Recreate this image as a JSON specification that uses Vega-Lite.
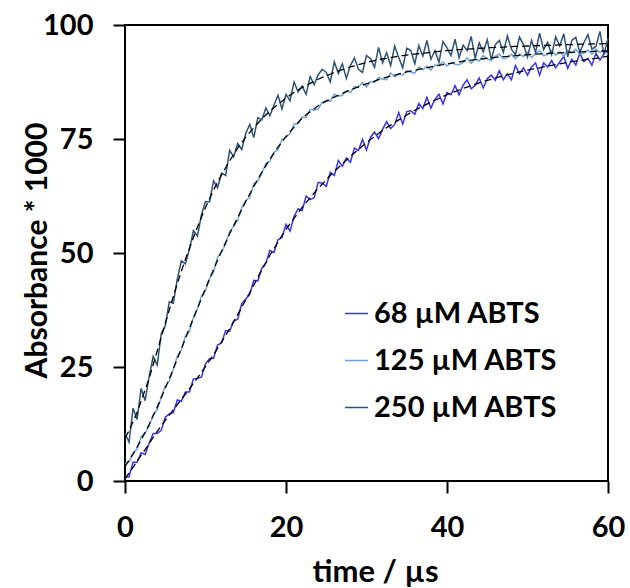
{
"$schema":"https://vega.github.io/schema/vega-lite/v6.json",
"width":483,"height":456,
"autosize":{"type":"none"},
"padding":{"left":125,"top":25,"right":22,"bottom":107},
"background":"white",
"config":{"view":{"stroke":"black","strokeWidth":2},"font":"Lato"},
"data":{"values":[
{"t":0,"a":0.9,"b":3.8,"c":10.5,"fa":0.5,"fb":3.2,"fc":9.5},
{"t":0.5,"a":0.9,"b":4.2,"c":8.5,"fa":1.75,"fb":4.55,"fc":11},
{"t":1,"a":4.1,"b":6.1,"c":16,"fa":3,"fb":5.9,"fc":13},
{"t":1.5,"a":4.1,"b":7.0,"c":13.5,"fa":4.3,"fb":7.45,"fc":15},
{"t":2,"a":6.2,"b":9.7,"c":20.3,"fa":5.6,"fb":9,"fc":17.5},
{"t":2.5,"a":5.8,"b":10.5,"c":17.6,"fa":6.9,"fb":10.7,"fc":20},
{"t":3,"a":8.3,"b":12.0,"c":22.9,"fa":8.2,"fb":12.4,"fc":22.5},
{"t":3.5,"a":10.4,"b":14.6,"c":27.3,"fa":9.55,"fb":14.3,"fc":25.5},
{"t":4,"a":10.4,"b":15.6,"c":25.4,"fa":10.9,"fb":16.2,"fc":28.5},
{"t":4.5,"a":11.1,"b":18.4,"c":32.3,"fa":12.1,"fb":18.25,"fc":31.5},
{"t":5,"a":14.0,"b":20.8,"c":34.0,"fa":13.3,"fb":20.3,"fc":34.5},
{"t":5.5,"a":14.7,"b":21.9,"c":39.3,"fa":14.45,"fb":22.45,"fc":37.5},
{"t":6,"a":15.0,"b":24.5,"c":39.0,"fa":15.6,"fb":24.6,"fc":40.5},
{"t":6.5,"a":17.8,"b":27.4,"c":44.3,"fa":16.75,"fb":26.8,"fc":43.3},
{"t":7,"a":17.5,"b":28.7,"c":48.3,"fa":17.9,"fb":29,"fc":46},
{"t":7.5,"a":19.5,"b":31.7,"c":47.6,"fa":19.05,"fb":31.25,"fc":48.6},
{"t":8,"a":19.5,"b":32.8,"c":50.8,"fa":20.2,"fb":33.5,"fc":51},
{"t":8.5,"a":22.4,"b":35.9,"c":54.9,"fa":21.4,"fb":35.7,"fc":53.4},
{"t":9,"a":22.5,"b":37.7,"c":53.7,"fa":22.6,"fb":37.9,"fc":55.7},
{"t":9.5,"a":22.8,"b":40.6,"c":58.4,"fa":23.85,"fb":40.05,"fc":57.9},
{"t":10,"a":25.7,"b":41.7,"c":61.3,"fa":25.1,"fb":42.2,"fc":60},
{"t":10.5,"a":26.8,"b":44.4,"c":61.2,"fa":26.4,"fb":44.3,"fc":61.9},
{"t":11,"a":26.9,"b":45.8,"c":65.8,"fa":27.7,"fb":46.4,"fc":63.8},
{"t":11.5,"a":29.8,"b":49.1,"c":64.3,"fa":29.1,"fb":48.4,"fc":65.5},
{"t":12,"a":30.3,"b":50.2,"c":67.5,"fa":30.5,"fb":50.4,"fc":67.2},
{"t":12.5,"a":33.0,"b":51.9,"c":67.0,"fa":31.95,"fb":52.3,"fc":68.7},
{"t":13,"a":32.8,"b":54.7,"c":72.5,"fa":33.4,"fb":54.2,"fc":70.2},
{"t":13.5,"a":35.1,"b":55.9,"c":71.1,"fa":34.95,"fb":56,"fc":71.6},
{"t":14,"a":35.5,"b":57.2,"c":74.0,"fa":36.5,"fb":57.8,"fc":73},
{"t":14.5,"a":38.9,"b":59.9,"c":72.7,"fa":38.1,"fb":59.55,"fc":74.2},
{"t":15,"a":39.9,"b":61.5,"c":76.2,"fa":39.7,"fb":61.3,"fc":75.4},
{"t":15.5,"a":40.9,"b":62.2,"c":78.2,"fa":41.35,"fb":62.95,"fc":76.45},
{"t":16,"a":44.0,"b":65.2,"c":75.3,"fa":43,"fb":64.6,"fc":77.5},
{"t":16.5,"a":43.9,"b":65.8,"c":79.7,"fa":44.65,"fb":66.15,"fc":78.45},
{"t":17,"a":46.7,"b":67.5,"c":79.2,"fa":46.3,"fb":67.7,"fc":79.4},
{"t":17.5,"a":47.8,"b":69.6,"c":81.8,"fa":47.9,"fb":69.15,"fc":80.25},
{"t":18,"a":50.6,"b":70.1,"c":80.1,"fa":49.5,"fb":70.6,"fc":81.1},
{"t":18.5,"a":50.1,"b":72.1,"c":82.4,"fa":50.95,"fb":71.9,"fc":81.85},
{"t":19,"a":52.9,"b":72.6,"c":84.6,"fa":52.4,"fb":73.2,"fc":82.6},
{"t":19.5,"a":53.4,"b":74.9,"c":81.6,"fa":53.8,"fb":74.35,"fc":83.3},
{"t":20,"a":56.3,"b":75.4,"c":84.8,"fa":55.2,"fb":75.5,"fc":84},
{"t":20.5,"a":54.8,"b":76.2,"c":83.4,"fa":56.4,"fb":76.55,"fc":84.6},
{"t":21,"a":58.0,"b":78.3,"c":87.5,"fa":57.6,"fb":77.6,"fc":85.2},
{"t":21.5,"a":59.7,"b":78.4,"c":85.3,"fa":58.8,"fb":78.6,"fc":85.75},
{"t":22,"a":59.3,"b":79.8,"c":86.6,"fa":60,"fb":79.6,"fc":86.3},
{"t":22.5,"a":62.5,"b":79.7,"c":84.8,"fa":61.05,"fb":80.3,"fc":86.75},
{"t":23,"a":61.7,"b":81.5,"c":88.7,"fa":62.1,"fb":81,"fc":87.2},
{"t":23.5,"a":62.1,"b":81.3,"c":86.9,"fa":63.15,"fb":81.65,"fc":87.65},
{"t":24,"a":65.5,"b":81.6,"c":89.1,"fa":64.2,"fb":82.3,"fc":88.1},
{"t":24.5,"a":65.3,"b":83.1,"c":90.3,"fa":65.1,"fb":82.8,"fc":88.5},
{"t":25,"a":64.6,"b":83.4,"c":89.6,"fa":66.05,"fb":83.3,"fc":88.85},
{"t":25.5,"a":67.7,"b":83.3,"c":87.5,"fa":67,"fb":83.75,"fc":89.2},
{"t":26,"a":67.0,"b":84.8,"c":91.9,"fa":67.9,"fb":84.2,"fc":89.6},
{"t":26.5,"a":70.3,"b":84.4,"c":89.4,"fa":68.7,"fb":84.6,"fc":89.9},
{"t":27,"a":69.0,"b":84.6,"c":91.5,"fa":69.55,"fb":85,"fc":90.2},
{"t":27.5,"a":70.8,"b":85.6,"c":88.3,"fa":70.4,"fb":85.4,"fc":90.5},
{"t":28,"a":69.9,"b":85.2,"c":91.1,"fa":71.2,"fb":85.8,"fc":90.8},
{"t":28.5,"a":73.0,"b":86.5,"c":92.8,"fa":71.95,"fb":86.1,"fc":91.05},
{"t":29,"a":72.5,"b":86.4,"c":90.3,"fa":72.7,"fb":86.45,"fc":91.3},
{"t":29.5,"a":74.9,"b":87.4,"c":89.6,"fa":73.45,"fb":86.8,"fc":91.55},
{"t":30,"a":72.6,"b":86.4,"c":93.3,"fa":74.2,"fb":87.1,"fc":91.8},
{"t":30.5,"a":75.4,"b":87.6,"c":92.6,"fa":74.9,"fb":87.4,"fc":92},
{"t":31,"a":76.5,"b":87.4,"c":90.7,"fa":75.55,"fb":87.7,"fc":92.2},
{"t":31.5,"a":75.1,"b":88.5,"c":95.1,"fa":76.2,"fb":88,"fc":92.4},
{"t":32,"a":77.1,"b":88.1,"c":91.7,"fa":76.9,"fb":88.3,"fc":92.6},
{"t":32.5,"a":78.8,"b":88.0,"c":93.9,"fa":77.5,"fb":88.55,"fc":92.7},
{"t":33,"a":77.3,"b":89.5,"c":91.1,"fa":78.05,"fb":88.8,"fc":92.85},
{"t":33.5,"a":78.2,"b":88.6,"c":95.4,"fa":78.6,"fb":89,"fc":93},
{"t":34,"a":80.8,"b":89.3,"c":92.9,"fa":79.2,"fb":89.25,"fc":93.15},
{"t":34.5,"a":78.3,"b":89.0,"c":90.6,"fa":79.7,"fb":89.5,"fc":93.3},
{"t":35,"a":81.0,"b":90.0,"c":94.9,"fa":80.25,"fb":89.7,"fc":93.4},
{"t":35.5,"a":81.2,"b":89.7,"c":94.4,"fa":80.8,"fb":89.9,"fc":93.5},
{"t":36,"a":80.4,"b":89.4,"c":91.5,"fa":81.3,"fb":90.05,"fc":93.6},
{"t":36.5,"a":82.8,"b":90.8,"c":95.5,"fa":81.75,"fb":90.25,"fc":93.7},
{"t":37,"a":81.7,"b":90.2,"c":93.2,"fa":82.2,"fb":90.45,"fc":93.8},
{"t":37.5,"a":84.1,"b":91.0,"c":96.6,"fa":82.65,"fb":90.6,"fc":93.9},
{"t":38,"a":81.8,"b":90.1,"c":92.5,"fa":83.1,"fb":90.8,"fc":94},
{"t":38.5,"a":83.7,"b":91.2,"c":94.4,"fa":83.5,"fb":91,"fc":94.1},
{"t":39,"a":84.8,"b":91.1,"c":91.8,"fa":83.9,"fb":91.15,"fc":94.2},
{"t":39.5,"a":82.7,"b":91.9,"c":96.4,"fa":84.3,"fb":91.3,"fc":94.3},
{"t":40,"a":85.2,"b":91.0,"c":95.0,"fa":84.7,"fb":91.5,"fc":94.4},
{"t":40.5,"a":84.7,"b":91.8,"c":93.3,"fa":85.05,"fb":91.6,"fc":94.45},
{"t":41,"a":86.7,"b":91.4,"c":96.9,"fa":85.4,"fb":91.75,"fc":94.5},
{"t":41.5,"a":84.7,"b":91.3,"c":92.8,"fa":85.75,"fb":91.9,"fc":94.6},
{"t":42,"a":86.8,"b":91.8,"c":95.6,"fa":86.1,"fb":92.05,"fc":94.65},
{"t":42.5,"a":88.0,"b":92.8,"c":94.4,"fa":86.4,"fb":92.2,"fc":94.7},
{"t":43,"a":86.0,"b":91.6,"c":97.5,"fa":86.7,"fb":92.3,"fc":94.75},
{"t":43.5,"a":86.8,"b":92.6,"c":92.7,"fa":87,"fb":92.4,"fc":94.8},
{"t":44,"a":88.4,"b":92.1,"c":96.1,"fa":87.3,"fb":92.5,"fc":94.9},
{"t":44.5,"a":86.2,"b":93.3,"c":94.1,"fa":87.6,"fb":92.6,"fc":94.95},
{"t":45,"a":88.2,"b":92.6,"c":96.8,"fa":87.85,"fb":92.7,"fc":95},
{"t":45.5,"a":89.0,"b":92.2,"c":92.4,"fa":88.1,"fb":92.8,"fc":95.05},
{"t":46,"a":87.9,"b":93.2,"c":95.7,"fa":88.4,"fb":92.9,"fc":95.1},
{"t":46.5,"a":90.0,"b":93.6,"c":96.6,"fa":88.6,"fb":93,"fc":95.1},
{"t":47,"a":88.0,"b":92.6,"c":94.0,"fa":88.85,"fb":93.05,"fc":95.15},
{"t":47.5,"a":89.3,"b":92.9,"c":97.6,"fa":89.1,"fb":93.1,"fc":95.2},
{"t":48,"a":88.0,"b":93.6,"c":94.7,"fa":89.3,"fb":93.2,"fc":95.25},
{"t":48.5,"a":91.1,"b":92.6,"c":93.5,"fa":89.5,"fb":93.3,"fc":95.3},
{"t":49,"a":89.3,"b":93.6,"c":97.4,"fa":89.7,"fb":93.35,"fc":95.3},
{"t":49.5,"a":90.6,"b":93.1,"c":95.7,"fa":89.9,"fb":93.4,"fc":95.35},
{"t":50,"a":89.0,"b":94.0,"c":93.0,"fa":90.1,"fb":93.5,"fc":95.4},
{"t":50.5,"a":90.8,"b":92.9,"c":96.6,"fa":90.3,"fb":93.55,"fc":95.4},
{"t":51,"a":91.7,"b":93.7,"c":94.0,"fa":90.45,"fb":93.6,"fc":95.45},
{"t":51.5,"a":89.0,"b":94.4,"c":98.2,"fa":90.6,"fb":93.65,"fc":95.5},
{"t":52,"a":91.7,"b":93.3,"c":94.6,"fa":90.8,"fb":93.7,"fc":95.5},
{"t":52.5,"a":90.8,"b":93.5,"c":96.2,"fa":91,"fb":93.75,"fc":95.55},
{"t":53,"a":92.2,"b":94.4,"c":93.5,"fa":91.15,"fb":93.8,"fc":95.6},
{"t":53.5,"a":90.6,"b":93.4,"c":97.4,"fa":91.3,"fb":93.85,"fc":95.6},
{"t":54,"a":91.9,"b":94.1,"c":95.4,"fa":91.5,"fb":93.9,"fc":95.65},
{"t":54.5,"a":93.1,"b":93.2,"c":98.1,"fa":91.65,"fb":93.95,"fc":95.7},
{"t":55,"a":90.5,"b":94.4,"c":93.0,"fa":91.8,"fb":94,"fc":95.7},
{"t":55.5,"a":92.5,"b":93.9,"c":96.6,"fa":91.95,"fb":94,"fc":95.7},
{"t":56,"a":91.2,"b":94.7,"c":97.3,"fa":92.1,"fb":94.05,"fc":95.75},
{"t":56.5,"a":93.8,"b":93.5,"c":94.0,"fa":92.2,"fb":94.1,"fc":95.8},
{"t":57,"a":92.0,"b":93.9,"c":96.1,"fa":92.35,"fb":94.1,"fc":95.8},
{"t":57.5,"a":92.7,"b":94.5,"c":97.9,"fa":92.5,"fb":94.15,"fc":95.8},
{"t":58,"a":91.2,"b":93.6,"c":94.7,"fa":92.6,"fb":94.2,"fc":95.85},
{"t":58.5,"a":93.8,"b":94.7,"c":95.3,"fa":92.7,"fb":94.2,"fc":95.85},
{"t":59,"a":92.3,"b":94.0,"c":98.6,"fa":92.85,"fb":94.25,"fc":95.85},
{"t":59.5,"a":93.7,"b":94.4,"c":93.5,"fa":93,"fb":94.3,"fc":95.9},
{"t":60,"a":94.4,"b":93.6,"c":97.1,"fa":93.1,"fb":94.3,"fc":95.9}
]},
"layer":[
{"transform":[{"fold":["a","b","c"],"as":["series","value"]}],
 "mark":{"type":"line","strokeWidth":1.5},
 "encoding":{
  "x":{"field":"t","type":"quantitative","scale":{"domain":[0,60],"nice":false},
   "axis":{"values":[0,20,40,60],"title":"time / µs","grid":false,"domain":false,"tickSize":12,"tickWidth":2,"tickColor":"black","labelFontSize":29,"labelFontWeight":"bold","labelColor":"black","labelPadding":20,"labelFlush":false,"labelOverlap":false,"titleFontSize":31,"titleFontWeight":"bold","titleColor":"black","titleX":250,"titleY":76,"titleBaseline":"top","titleAlign":"center"}},
  "y":{"field":"value","type":"quantitative","scale":{"domain":[0,100],"nice":false},
   "axis":{"values":[0,25,50,75,100],"title":"Absorbance * 1000","grid":false,"domain":false,"tickSize":12,"tickWidth":2,"tickColor":"black","labelFontSize":29,"labelFontWeight":"bold","labelColor":"black","labelPadding":20,"labelFlush":false,"labelOverlap":false,"titleFontSize":30,"titleFontWeight":"bold","titleColor":"black","titleX":-88,"titleY":225,"titleAngle":-90,"titleBaseline":"middle","titleAlign":"center"}},
  "color":{"field":"series","type":"nominal","scale":{"domain":["a","b","c"],"range":["#3a33ee","#6fa6da","#2e5377"]},
   "legend":{"orient":"none","legendX":217,"legendY":274,"title":null,"padding":0,"symbolType":"stroke","symbolSize":529,"symbolStrokeWidth":1.5,"labelFontSize":29,"labelFontWeight":"bold","labelColor":"black","labelOffset":3,"labelLimit":400,"rowPadding":17,"labelExpr":"datum.value=='a'?'68 µM ABTS':datum.value=='b'?'125 µM ABTS':'250 µM ABTS'"}}
 }},
{"transform":[{"fold":["fa","fb","fc"],"as":["fit","fv"]}],
 "mark":{"type":"line","color":"black","strokeWidth":1.3,"strokeDash":[7,4]},
 "encoding":{
  "x":{"field":"t","type":"quantitative"},
  "y":{"field":"fv","type":"quantitative"},
  "detail":{"field":"fit","type":"nominal"}
 }}
]
}
